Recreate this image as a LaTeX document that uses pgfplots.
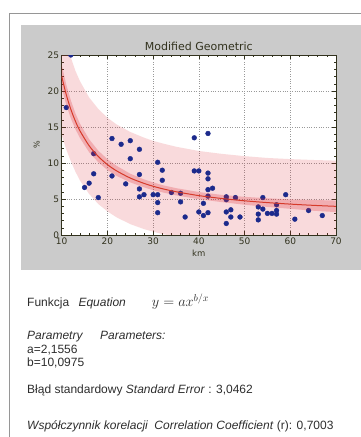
\documentclass[border=0pt]{standalone}
\usepackage{pgfplots}
\pgfplotsset{compat=1.18}
\usepackage{fontspec}
\setmainfont{Liberation Sans}
\newfontfamily\dejavu{DejaVu Sans}
\definecolor{panel}{RGB}{203,203,203}
\definecolor{frame}{RGB}{150,150,150}
\definecolor{olive}{RGB}{50,50,30}
\definecolor{band}{RGB}{220,40,50}
\definecolor{fitline}{RGB}{214,58,42}
\definecolor{dots}{RGB}{28,42,140}
\definecolor{txt}{RGB}{45,45,45}
\begin{document}
\begin{tikzpicture}[x=1pt,y=1pt]
\useasboundingbox (0,0) rectangle (360,437);
\draw[frame, line width=0.9pt] (9,-5) -- (9,424) -- (370,424);
\fill[panel] (20.7,167) rectangle (365,412);
\begin{axis}[
  at={(61.7pt,202pt)}, anchor=south west,
  width=274.3pt, height=180pt, scale only axis,
  xmin=10, xmax=70, ymin=0, ymax=25,
  xtick={10,20,...,70}, ytick={0,5,...,25},
  minor x tick num=4, minor y tick num=4,
  tick align=inside, xtick pos=both, ytick pos=both,
  major tick length=4pt, minor tick length=2pt,
  every tick/.style={olive, line width=0.5pt},
  axis line style={olive, line width=0.7pt},
  axis background/.style={fill=white},
  grid=major, major grid style={gray!80, dotted, line width=0.5pt},
  /pgf/number format/assume math mode=true,
  tick label style={font=\dejavu\fontsize{9}{10}\selectfont, text=olive},
  xticklabel style={yshift=1pt},
  yticklabel style={xshift=1pt},
  title={Modified Geometric},
  title style={font=\dejavu\fontsize{11}{12}\selectfont, text=olive, yshift=-5pt},
  xlabel={km}, ylabel={\%},
  xlabel style={font=\dejavu\fontsize{8.5}{10}\selectfont, text=olive, yshift=1pt},
  ylabel style={font=\dejavu\fontsize{8}{10}\selectfont, text=olive, yshift=1pt},
  clip marker paths=true,
]
% outer prediction band
\addplot[draw=none, fill=band, fill opacity=0.17] coordinates {
(10,30.25)(11,27.08)(12,24.65)(13,22.80)(14,21.36)(16,19.10)(18,17.51)(20,16.28)(22,15.36)(25,14.31)(28,13.52)(30,13.07)(32,12.73)(35,12.26)(40,11.67)(45,11.27)(50,10.95)(55,10.70)(60,10.54)(65,10.42)(70,10.33)
(70,-2.37)(65,-2.18)(60,-1.96)(55,-1.70)(50,-1.45)(45,-1.13)(40,-0.73)(35,-0.24)(32,0.13)(30,0.47)(28,0.82)(25,1.51)(22,2.46)(20,3.28)(18,4.31)(16,5.70)(14,7.56)(13,8.80)(12,10.25)(11,11.88)(10,13.85)
} -- cycle;
% data points
\addplot[only marks, mark=*, mark size=2.4pt, draw=dots, fill=dots] coordinates {
(11,17.7)(12,25.0)(15,6.6)(16,7.2)(17,11.3)(17,8.5)(18,5.2)(21,13.4)(21,8.2)(23,12.6)(24,7.1)(25,13.1)(25,10.6)(27,11.9)(27,8.4)(27,6.4)(27,5.3)(28,5.6)(30,5.6)(31,10.1)(31,5.6)(31,4.5)(31,3.1)(32,9.0)(32,7.6)(34,5.9)(36,5.8)(36,4.6)(37,2.5)(39,13.5)(39,8.9)(40,8.9)(40,3.2)(41,4.4)(41,2.7)(42,14.1)(42,8.6)(42,7.8)(42,6.3)(42,5.4)(42,3.1)(43,6.5)(46,5.3)(46,4.9)(46,3.2)(46,1.6)(47,3.5)(47,2.5)(48,5.2)(49,2.5)(53,3.9)(53,2.9)(53,2.1)(54,5.2)(54,3.6)(55,3.0)(56,3.0)(57,4.2)(57,3.4)(57,2.9)(59,5.6)(61,2.2)(64,3.4)(67,2.7)
};
% inner confidence band
\addplot[draw=none, fill=band, fill opacity=0.25] coordinates {
(10,23.65)(11,20.88)(12,18.70)(13,16.90)(14,15.46)(16,13.30)(18,11.71)(20,10.53)(22,9.61)(25,8.51)(28,7.72)(30,7.32)(32,6.93)(35,6.51)(40,5.97)(45,5.57)(50,5.30)(55,5.10)(60,4.94)(65,4.87)(70,4.78)
(70,3.18)(65,3.37)(60,3.64)(55,3.90)(50,4.20)(45,4.57)(40,4.97)(35,5.51)(32,5.93)(30,6.22)(28,6.62)(25,7.31)(22,8.21)(20,9.03)(18,10.11)(16,11.50)(14,13.46)(13,14.70)(12,16.20)(11,18.08)(10,20.45)
} -- cycle;
% fitted curve
\addplot[fitline, line width=1pt, smooth] coordinates {
(10,22.05)(11,19.48)(12,17.45)(13,15.80)(14,14.46)(16,12.40)(18,10.91)(20,9.78)(22,8.91)(25,7.91)(28,7.17)(30,6.77)(32,6.43)(35,6.01)(40,5.47)(45,5.07)(50,4.75)(55,4.50)(60,4.29)(65,4.12)(70,3.98)
};
\end{axis}
\begin{scope}[every node/.style={anchor=base west, inner sep=0pt, text=txt, font=\fontsize{12}{14}\selectfont}]
\node at (27,130.3) {Funkcja\hspace{6pt} \itshape Equation};
\node at (151.7,130.3) {\fontsize{14}{16}\selectfont $y=ax^{b/x}$};
\node at (27,97) {\itshape Parametry};
\node at (100,97) {\itshape Parameters:};
\node at (27,83) {a=2,1556};
\node at (27,70.3) {b=10,0975};
\node at (27,43) {Błąd standardowy \textit{Standard Error} : 3,0462};
\node at (27,8) {\textit{Współczynnik korelacji}\hspace{3pt} \textit{Correlation Coefficient} (r): 0,7003};
\end{scope}
\end{tikzpicture}
\end{document}
